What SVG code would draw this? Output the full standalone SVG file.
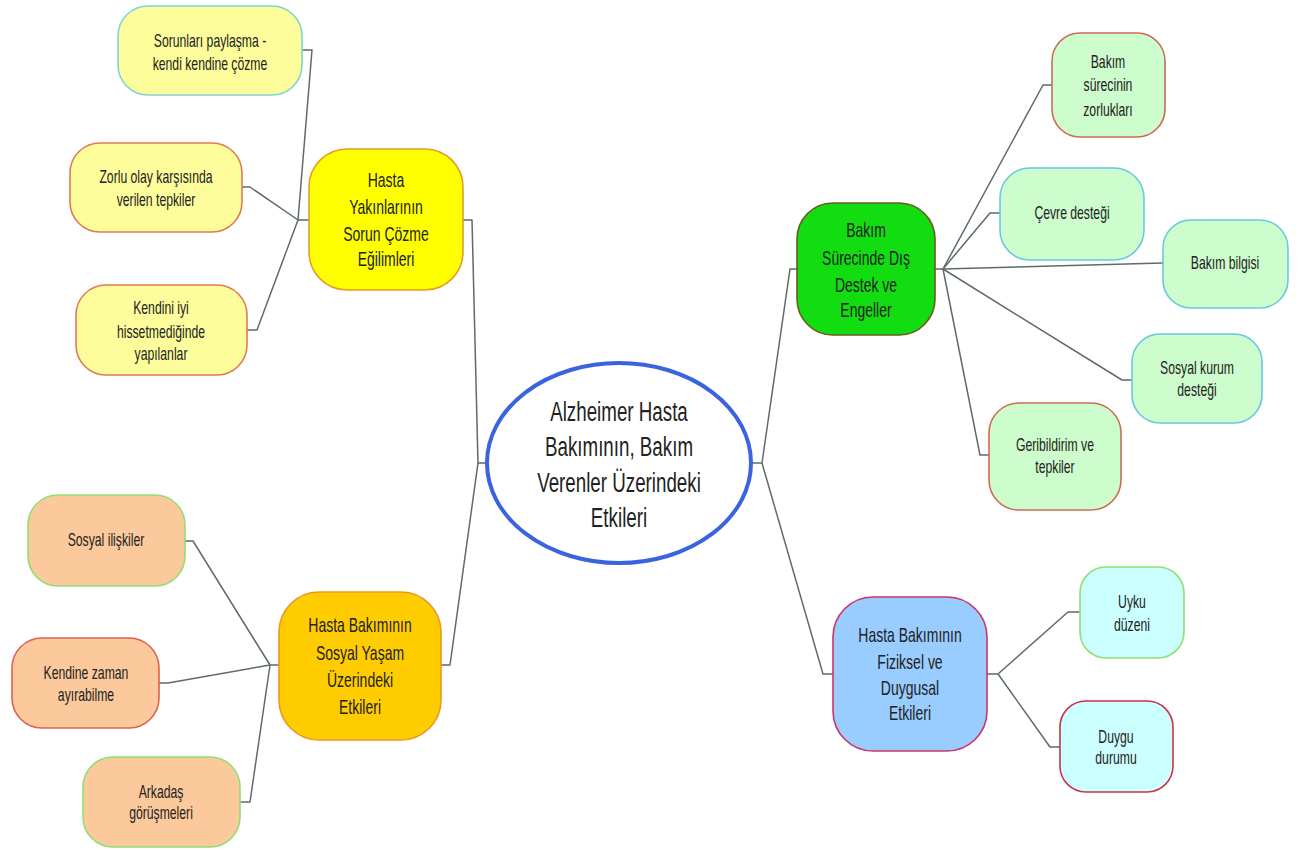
<svg xmlns="http://www.w3.org/2000/svg" width="1305" height="850" viewBox="0 0 1305 850">
<style>
text{font-family:"Liberation Sans",Arial,sans-serif;fill:#222;text-anchor:middle}
.leaf text{font-size:18.5px}
.main text{font-size:20px}
.ctr text{font-size:28px}
.c{fill:none;stroke:#5f6b6b;stroke-width:1.5;stroke-linejoin:round}
.n{stroke-width:1.6}
.ly{fill:#fdfd9c}
.pe{fill:#fbc99c}
.lg{fill:#cdfccd}
.lc{fill:#ccffff}
.st{stroke:#7dd5cf}
.sr{stroke:#e07a55}
.sg{stroke:#8ee070}
.sc{stroke:#66c9e0}
.sb{stroke:#d06a58}
</style>
<rect width="1305" height="850" fill="#ffffff"/>
<g id="connectors">
<polyline class="c" points="302,50 312,50 298,220 309,220"/>
<polyline class="c" points="242,187 250,187 298,220"/>
<polyline class="c" points="247,330 257,330 298,220"/>
<polyline class="c" points="463,220 472,220 478,463 487,463"/>
<polyline class="c" points="185,541 193,541 270,665 279,665"/>
<polyline class="c" points="159,683 168,683 270,665"/>
<polyline class="c" points="240,802 250,802 270,665"/>
<polyline class="c" points="441,665 450,665 478,463"/>
<polyline class="c" points="752,463 762,463 790,269 797,269"/>
<polyline class="c" points="762,463 823,674 833,674"/>
<polyline class="c" points="935,269 943,269 1043,85 1052,85"/>
<polyline class="c" points="943,269 990,213 1000,213"/>
<polyline class="c" points="943,269 1163,263"/>
<polyline class="c" points="943,269 1122,380 1132,380"/>
<polyline class="c" points="943,269 980,455 989,455"/>
<polyline class="c" points="987,674 998,674 1068,612 1080,612"/>
<polyline class="c" points="998,674 1050,747 1060,747"/>
</g>
<g id="center" class="ctr">
<ellipse cx="619" cy="463" rx="132" ry="100" fill="#ffffff" stroke="#3a63e0" stroke-width="4"/>
<g transform="translate(619 0) scale(0.67 1)">
<text x="0" y="421">Alzheimer Hasta</text>
<text x="0" y="456">Bakımının, Bakım</text>
<text x="0" y="492">Verenler Üzerindeki</text>
<text x="0" y="527">Etkileri</text>
</g>
</g>
<g id="n-sorunlari" class="leaf">
<rect class="n ly st" x="118" y="6" width="184" height="89" rx="30"/>
<g transform="translate(210 0) scale(0.66 1)">
<text x="0" y="47">Sorunları paylaşma -</text>
<text x="0" y="70">kendi kendine çözme</text>
</g>
</g>
<g id="n-zorlu" class="leaf">
<rect class="n ly sr" x="70" y="143" width="172" height="89" rx="30"/>
<g transform="translate(156 0) scale(0.66 1)">
<text x="0" y="183">Zorlu olay karşısında</text>
<text x="0" y="206">verilen tepkiler</text>
</g>
</g>
<g id="n-kendini" class="leaf">
<rect class="n ly sr" x="76" y="285" width="171" height="90" rx="30"/>
<g transform="translate(161 0) scale(0.66 1)">
<text x="0" y="314">Kendini iyi</text>
<text x="0" y="338">hissetmediğinde</text>
<text x="0" y="360">yapılanlar</text>
</g>
</g>
<g id="n-yakinlar" class="main">
<rect class="n" x="309" y="149" width="154" height="141" rx="38" fill="#ffff00" stroke="#e0a020"/>
<g transform="translate(386 0) scale(0.7 1)">
<text x="0" y="187">Hasta</text>
<text x="0" y="214">Yakınlarının</text>
<text x="0" y="241">Sorun Çözme</text>
<text x="0" y="266">Eğilimleri</text>
</g>
</g>
<g id="n-sosyal-iliskiler" class="leaf">
<rect class="n pe sg" x="28" y="495" width="157" height="91" rx="30"/>
<g transform="translate(106 0) scale(0.66 1)">
<text x="0" y="546">Sosyal ilişkiler</text>
</g>
</g>
<g id="n-kendine-zaman" class="leaf">
<rect class="n pe" x="12" y="638" width="147" height="90" rx="30" stroke="#e06050"/>
<g transform="translate(86 0) scale(0.66 1)">
<text x="0" y="679">Kendine zaman</text>
<text x="0" y="701">ayırabilme</text>
</g>
</g>
<g id="n-arkadas" class="leaf">
<rect class="n pe sg" x="83" y="757" width="157" height="90" rx="30"/>
<g transform="translate(161 0) scale(0.66 1)">
<text x="0" y="798">Arkadaş</text>
<text x="0" y="819">görüşmeleri</text>
</g>
</g>
<g id="n-sosyal-yasam" class="main">
<rect class="n" x="279" y="592" width="162" height="148" rx="40" fill="#ffcc00" stroke="#e89a20"/>
<g transform="translate(360 0) scale(0.7 1)">
<text x="0" y="632">Hasta Bakımının</text>
<text x="0" y="660">Sosyal Yaşam</text>
<text x="0" y="687">Üzerindeki</text>
<text x="0" y="714">Etkileri</text>
</g>
</g>
<g id="n-dis-destek" class="main">
<rect class="n" x="797" y="203" width="138" height="132" rx="36" fill="#11dd11" stroke="#6a5a20"/>
<g transform="translate(866 0) scale(0.7 1)">
<text x="0" y="237">Bakım</text>
<text x="0" y="265">Sürecinde Dış</text>
<text x="0" y="292">Destek ve</text>
<text x="0" y="317">Engeller</text>
</g>
</g>
<g id="n-zorluklar" class="leaf">
<rect class="n lg sb" x="1052" y="33" width="113" height="104" rx="28"/>
<g transform="translate(1108 0) scale(0.66 1)">
<text x="0" y="68">Bakım</text>
<text x="0" y="91">sürecinin</text>
<text x="0" y="116">zorlukları</text>
</g>
</g>
<g id="n-cevre" class="leaf">
<rect class="n lg sc" x="1000" y="168" width="144" height="92" rx="30"/>
<g transform="translate(1072 0) scale(0.66 1)">
<text x="0" y="219">Çevre desteği</text>
</g>
</g>
<g id="n-bilgi" class="leaf">
<rect class="n lg sc" x="1163" y="220" width="125" height="88" rx="28"/>
<g transform="translate(1225 0) scale(0.66 1)">
<text x="0" y="269">Bakım bilgisi</text>
</g>
</g>
<g id="n-kurum" class="leaf">
<rect class="n lg sc" x="1132" y="334" width="130" height="89" rx="28"/>
<g transform="translate(1197 0) scale(0.66 1)">
<text x="0" y="374">Sosyal kurum</text>
<text x="0" y="396">desteği</text>
</g>
</g>
<g id="n-geribildirim" class="leaf">
<rect class="n lg sb" x="989" y="403" width="132" height="107" rx="30"/>
<g transform="translate(1055 0) scale(0.66 1)">
<text x="0" y="451">Geribildirim ve</text>
<text x="0" y="473">tepkiler</text>
</g>
</g>
<g id="n-fiziksel" class="main">
<rect class="n" x="833" y="597" width="154" height="154" rx="40" fill="#99ccff" stroke="#cc3366"/>
<g transform="translate(910 0) scale(0.7 1)">
<text x="0" y="642">Hasta Bakımının</text>
<text x="0" y="669">Fiziksel ve</text>
<text x="0" y="695">Duygusal</text>
<text x="0" y="720">Etkileri</text>
</g>
</g>
<g id="n-uyku" class="leaf">
<rect class="n lc sg" x="1080" y="567" width="104" height="91" rx="26"/>
<g transform="translate(1132 0) scale(0.66 1)">
<text x="0" y="608">Uyku</text>
<text x="0" y="631">düzeni</text>
</g>
</g>
<g id="n-duygu" class="leaf">
<rect class="n lc" x="1060" y="701" width="113" height="91" rx="26" stroke="#cc3344"/>
<g transform="translate(1116 0) scale(0.66 1)">
<text x="0" y="743">Duygu</text>
<text x="0" y="764">durumu</text>
</g>
</g>
</svg>
